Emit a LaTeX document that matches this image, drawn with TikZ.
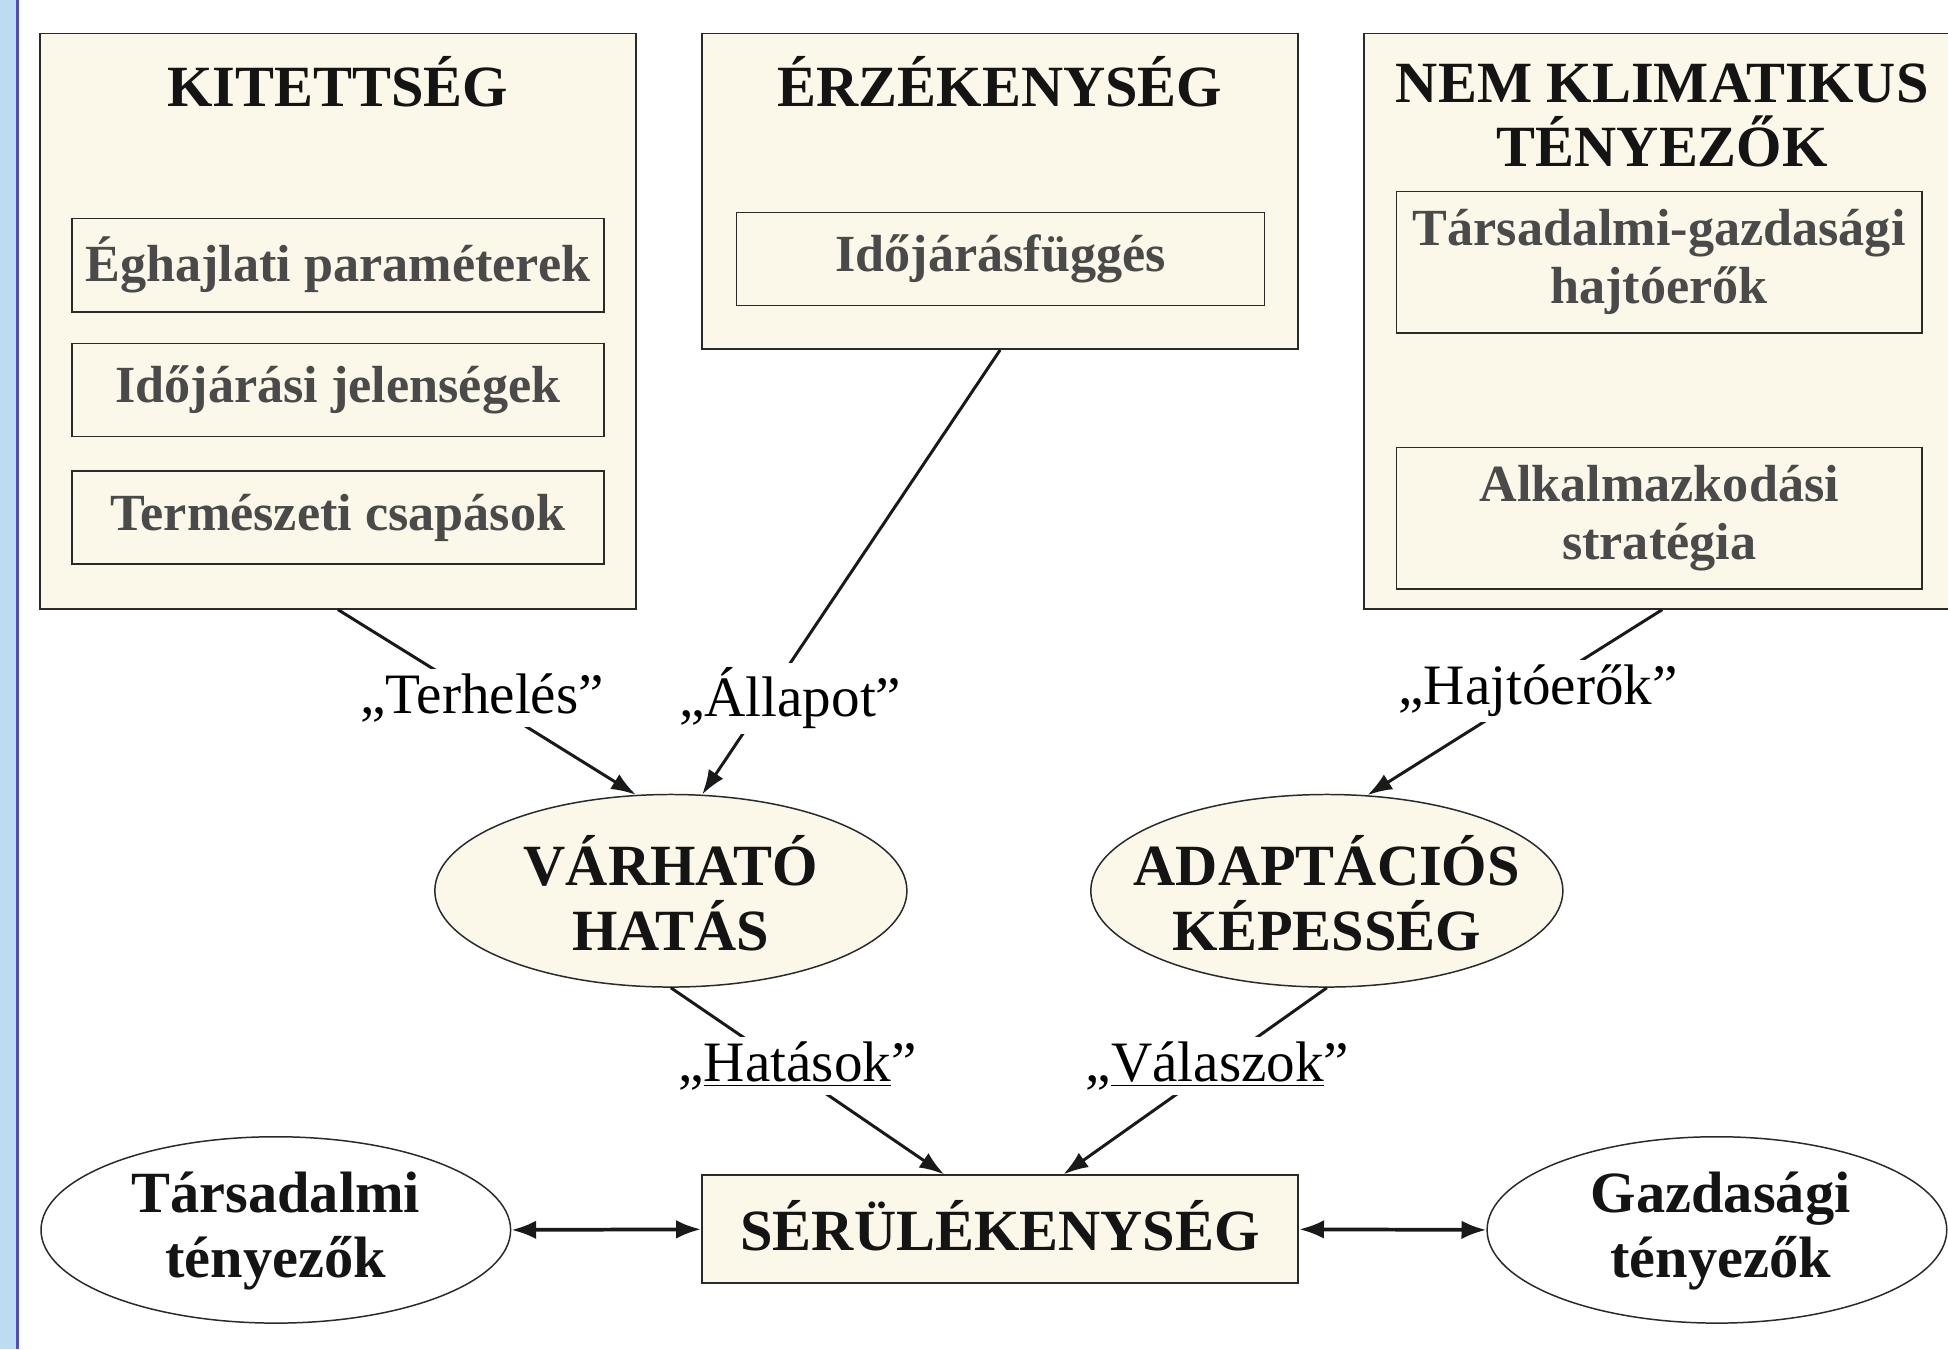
\documentclass[tikz,border=0pt]{standalone}
\usepackage{fontspec}
\setmainfont{Liberation Serif}
\usetikzlibrary{shapes.geometric,arrows.meta,calc}
\definecolor{cream}{HTML}{FBF8E9}
\definecolor{stripblue}{HTML}{BEDCF1}
\definecolor{stripline}{HTML}{4E4EC2}
\definecolor{innergray}{HTML}{4A4A4A}
\definecolor{edgec}{HTML}{2A2A2A}
\begin{document}
\begin{tikzpicture}[x=0.5pt,y=-0.5pt,
  bigbox/.style={draw=edgec, fill=cream, line width=0.7pt, inner sep=0pt},
  innerbox/.style={draw=edgec, fill=cream, line width=0.6pt, font=\fontsize{21}{23.5}\selectfont\bfseries, text=innergray, align=center, inner sep=0pt},
  titletext/.style={font=\fontsize{23.5}{26}\selectfont\bfseries, text=black!92, align=center, inner sep=0pt},
  oval/.style={ellipse, draw=edgec, line width=0.6pt, inner sep=0pt},
  lbl/.style={font=\fontsize{23}{26}\selectfont, fill=white, inner sep=2pt},
  conn/.style={line width=1.2pt, black!90},
  arr/.style={conn, -{Latex[length=10pt,width=7pt]}},
  darr/.style={line width=1.5pt, black!90, {Latex[length=10pt,width=7.5pt]}-{Latex[length=10pt,width=7.5pt]}}
]
\useasboundingbox (0,0) rectangle (1568,1086);
\clip (0,0) rectangle (1568,1086);
\fill[white] (0,0) rectangle (1568,1086);
\fill[stripblue] (0,0) rectangle (14,1086);
\draw[stripline, line width=1pt] (14,0) -- (14,1086);

% top boxes
\node[bigbox, minimum width=240pt, minimum height=231.5pt] (kit) at (272,258.5) {};
\node[titletext] (kitt) at (272,66) {KITETTSÉG};
\node[innerbox, minimum width=214pt, minimum height=37.5pt] (eghaj) at (272,213.5) {Éghajlati paraméterek};
\node[innerbox, minimum width=214pt, minimum height=37.5pt] (idoj) at (272,314) {Időjárási jelenségek};
\node[innerbox, minimum width=214pt, minimum height=37.5pt] (term) at (272,416.5) {Természeti csapások};

\node[bigbox, minimum width=240pt, minimum height=127pt] (erz) at (805,154) {};
\node[titletext] (erzt) at (805,66) {ÉRZÉKENYSÉG};
\node[innerbox, minimum width=212.5pt, minimum height=37.5pt] (idofugg) at (805.5,208.5) {Időjárásfüggés};

\node[bigbox, minimum width=240pt, minimum height=231.5pt] (nem) at (1338,258.5) {};
\node[titletext] (nemt) at (1338,93) {NEM KLIMATIKUS\\TÉNYEZŐK};
\node[innerbox, minimum width=211.5pt, minimum height=57pt] (tgh) at (1335.5,211) {Társadalmi-gazdasági\\hajtóerők};
\node[innerbox, minimum width=211.5pt, minimum height=57pt] (alk) at (1335.5,417) {Alkalmazkodási\\stratégia};

% middle ellipses
\node[oval, fill=cream, minimum width=190pt, minimum height=77.5pt] (varh) at (540,717) {};
\node[titletext] (varht) at (540,719) {VÁRHATÓ\\HATÁS};
\node[oval, fill=cream, minimum width=190pt, minimum height=77.5pt] (adap) at (1068,717) {};
\node[titletext] (adapt) at (1068,719) {ADAPTÁCIÓS\\KÉPESSÉG};

% bottom row
\node[bigbox, minimum width=240pt, minimum height=43.5pt] (serul) at (805,989.5) {};
\node[titletext] (serult) at (805,987) {SÉRÜLÉKENYSÉG};
\node[oval, fill=white, minimum width=189pt, minimum height=75pt] (tars) at (222,990) {};
\node[titletext] (tarst) at (222,991) {Társadalmi\\tényezők};
\node[oval, fill=white, minimum width=185pt, minimum height=75pt] (gazd) at (1382,990) {};
\node[titletext] (gazdt) at (1385,991) {Gazdasági\\tényezők};

% connectors
\draw[arr] (kit.south) -- (varh.110);
\draw[arr] (erz.south) -- (varh.72);
\draw[arr] (nem.south) -- (adap.67);
\draw[arr] (varh.south) -- ($(serul.north)+(-45,0)$);
\draw[arr] (adap.south) -- ($(serul.north)+(51,0)$);
\draw[darr] (tars.east) -- (serul.west);
\draw[darr] (serul.east) -- (gazd.west);

% labels
\node[lbl] (lterh) at (388,562) {„Terhelés”};
\node[lbl] (lall) at (636,562) {„Állapot”};
\node[lbl] (lhajt) at (1238,556) {„Hajtóerők”};
\node[lbl] (lhat) at (642,858) {„\underline{Hatások}”};
\node[lbl] (lval) at (980,858) {„\underline{Válaszok}”};
\end{tikzpicture}
\end{document}
